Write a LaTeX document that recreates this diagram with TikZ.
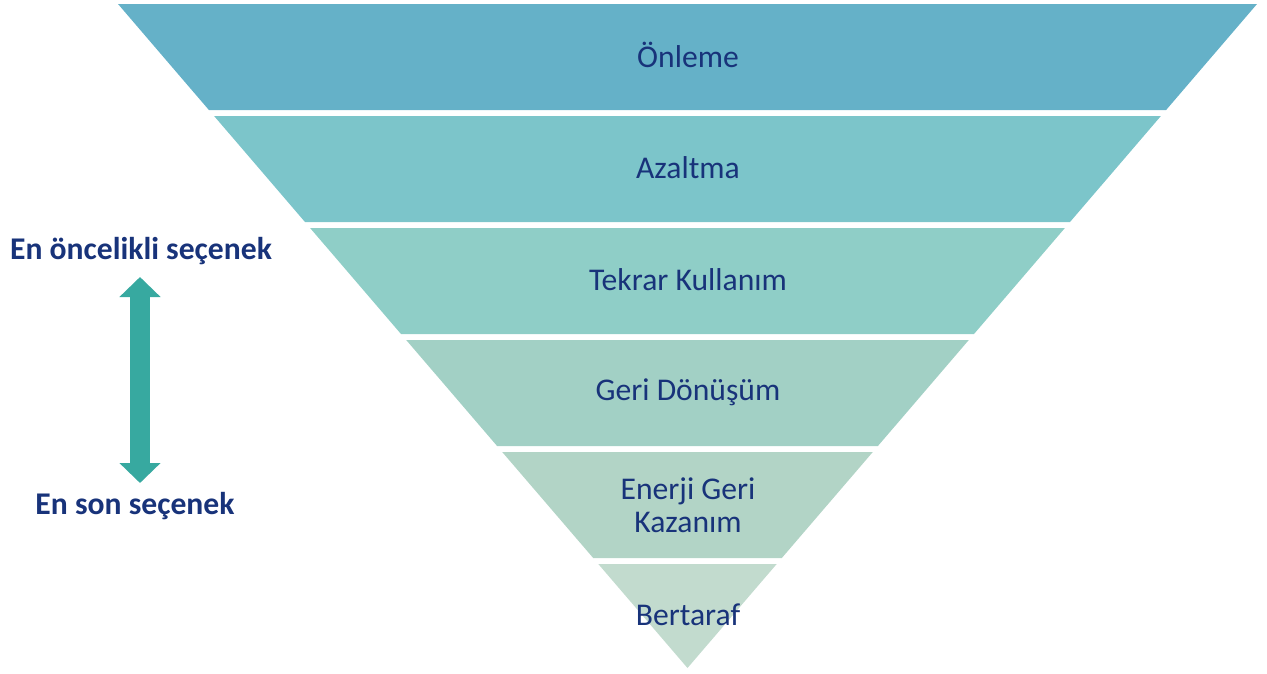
\documentclass[tikz,border=0pt]{standalone}
\usepackage{fontspec}
\setmainfont{Carlito}
\usetikzlibrary{arrows.meta}
\definecolor{bandA}{HTML}{65B1C8}
\definecolor{bandB}{HTML}{7CC5CA}
\definecolor{bandC}{HTML}{8FCEC7}
\definecolor{bandD}{HTML}{A2D0C5}
\definecolor{bandE}{HTML}{B2D4C6}
\definecolor{bandF}{HTML}{C2DBCE}
\definecolor{navy}{HTML}{18337A}
\definecolor{arrowteal}{HTML}{37A9A0}
\begin{document}
\begin{tikzpicture}[x=0.02cm, y=-0.02cm,
    lbl/.style={text=navy, font=\fontsize{18}{18.7}\selectfont, align=center},
    sidelbl/.style={text=navy, font=\fontsize{18}{18.7}\selectfont\bfseries}]
  \useasboundingbox (0, 0) rectangle (1267, 673);
  %%b1
    \fill[bandA] (118, 4) -- (1257, 4) -- (1166.1, 110) -- (208.9, 110) -- cycle;
  %%b2
    \fill[bandB] (214.1, 116) -- (1160.9, 116) -- (1070, 222) -- (305, 222) -- cycle;
  %%b3
    \fill[bandC] (310.1, 228) -- (1064.9, 228) -- (974, 334) -- (401, 334) -- cycle;
  %%b4
    \fill[bandD] (406.2, 340) -- (968.8, 340) -- (877.9, 446) -- (497.1, 446) -- cycle;
  %%b5
    \fill[bandE] (502.2, 452) -- (872.8, 452) -- (781.8, 558) -- (593.2, 558) -- cycle;
  %%b6 apex
    \fill[bandF] (598.3, 564) -- (776.7, 564) -- (687.5, 668) -- cycle;

  \node[lbl] (onleme) at (688, 55) {Önleme};
  \node[lbl] (azaltma) at (688, 168) {Azaltma};
  \node[lbl] (tekrar) at (688, 280) {Tekrar Kullanım};
  \node[lbl] (geri) at (688, 392) {Geri Dönüşüm};
  \node[lbl] (enerji) at (688, 505) {Enerji Geri\\Kazanım};
  \node[lbl] (bertaraf) at (688, 615) {Bertaraf};

  %left side
  \node[sidelbl] (ilk) at (141, 251) {En öncelikli seçenek};
  \node[sidelbl] (son) at (135, 506) {En son seçenek};
  \coordinate (up) at (140, 277);
  \coordinate (down) at (140, 483);
    \draw[arrowteal, line width=0.4cm,
      {Triangle[width=0.8cm, length=0.4cm]}-{Triangle[width=0.8cm, length=0.4cm]}] (up) -- (down);
\end{tikzpicture}
\end{document}
